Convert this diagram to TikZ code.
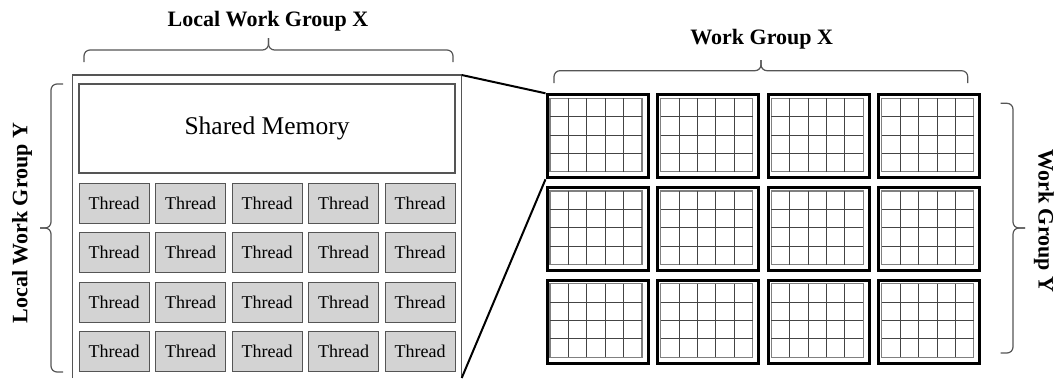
\documentclass[tikz,border=0pt]{standalone}
\usepackage{fontspec}
\setmainfont{Liberation Serif}
\definecolor{lgray}{HTML}{D3D3D3}
\definecolor{dgray}{HTML}{555555}
\definecolor{ggray}{HTML}{444444}
\tikzset{
  threadbox/.style={draw=dgray, fill=lgray, line width=1.2pt, minimum width=70pt, minimum height=40pt, inner sep=0pt, font=\fontsize{18}{20}\selectfont},
  membox/.style={draw=dgray, line width=1.2pt, minimum width=376pt, minimum height=89pt, inner sep=0pt, font=\fontsize{25.5}{28}\selectfont},
  blockbox/.style={draw=black, line width=3pt, minimum width=101pt, minimum height=83pt, inner sep=0pt},
  bracestyle/.style={draw=dgray, line width=1.2pt, rounded corners=6pt},
  biglabel/.style={font=\fontsize{22}{24}\selectfont\bfseries, inner sep=0pt},
  connector/.style={draw=black, line width=2pt},
}
\begin{document}
\begin{tikzpicture}[x=1pt,y=-1pt]
\useasboundingbox (0,0) rectangle (1058,378);
% outer local work group box (open at bottom, cropped)
\coordinate (obl) at (72.7,378);
\coordinate (otl) at (72.7,75);
\coordinate (otr) at (461.7,75);
\coordinate (obr) at (461.7,378);
\draw[dgray, line width=1.2pt] (obl) -- (otl) -- (otr) -- (obr);
% shared memory
\node[membox] (mem) at (267,128.5) {Shared Memory};
% threads
\foreach \r in {0,...,3}{
  \foreach \c in {0,...,4}{
    \node[threadbox] (t-\r-\c) at ({114.2+76.5*\c},{203.3+49.5*\r}) {Thread};
  }
}
% blocks
\foreach \r in {0,1,2}{
  \foreach \c in {0,...,3}{
    \pgfmathsetmacro{\xo}{545.5+110.6*\c}
    \pgfmathsetmacro{\yo}{93.3+92.7*\r}
    \node[blockbox, anchor=north west] (b-\r-\c) at (\xo,\yo) {};
    \draw[gray, line width=1.1pt] ({\xo+4.5},{\yo+5}) rectangle ({\xo+96.5},{\yo+78.5});
    \foreach \i in {1,...,4}{
      \draw[ggray, line width=1pt] ({\xo+4.5+18.4*\i},{\yo+5}) -- ({\xo+4.5+18.4*\i},{\yo+78.5});
    }
    \foreach \j in {1,...,3}{
      \draw[ggray, line width=1pt] ({\xo+4.5},{\yo+5+18.375*\j}) -- ({\xo+96.5},{\yo+5+18.375*\j});
    }
  }
}
% connectors
\draw[connector] (otr) -- (b-0-0.north west);
\draw[connector] (b-0-0.south west) -- (obr);
% braces
\draw[bracestyle] (84,62) -- (84,50) -- (268.5,50) -- (268.5,38);
\draw[bracestyle] (453,62) -- (453,50) -- (268.5,50) -- (268.5,38);
\draw[bracestyle] (554,83) -- (554,70.7) -- (761,70.7) -- (761,60);
\draw[bracestyle] (967.7,83) -- (967.7,70.7) -- (761,70.7) -- (761,60);
\draw[bracestyle] (63,84) -- (51,84) -- (51,228) -- (40,228);
\draw[bracestyle] (63,372) -- (51,372) -- (51,228) -- (40,228);
\draw[bracestyle] (1000.7,103.3) -- (1013,103.3) -- (1013,228) -- (1025,228);
\draw[bracestyle] (1000.7,353) -- (1013,353) -- (1013,228) -- (1025,228);
% labels
\node[biglabel] (lwx) at (268,21) {Local Work Group X};
\node[biglabel] (wx) at (761.7,39) {Work Group X};
\node[biglabel, rotate=90] (lwy) at (22,223) {Local Work Group Y};
\node[biglabel, rotate=-90] (wy) at (1044,221) {Work Group Y};
\end{tikzpicture}
\end{document}
